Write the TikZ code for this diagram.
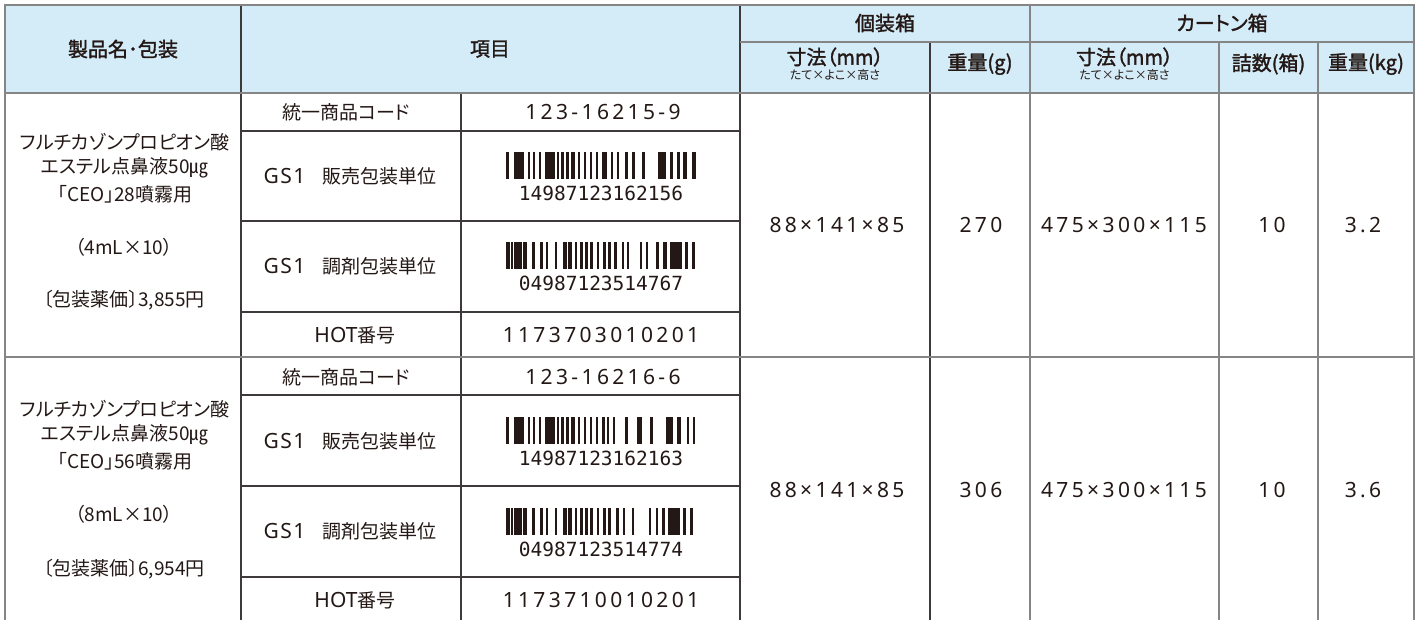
\documentclass[tikz,border=0pt]{standalone}
\usepackage{fontspec}
\newfontfamily\jp[RawFeature=+palt]{Noto Sans CJK JP}
\newfontfamily\jpm[RawFeature=+palt,FakeBold=1.6]{Noto Sans CJK JP}
\newfontfamily\numf[LetterSpace=16]{Noto Sans}
\newfontfamily\gsf[LetterSpace=7]{Noto Sans}
\newfontfamily\latf{Noto Sans}
\newfontfamily\bcf{DejaVu Sans Mono}
\definecolor{ink}{HTML}{231815}
\definecolor{hdrblue}{HTML}{D4EBF8}
\definecolor{rulec}{HTML}{3E3A39}
\definecolor{framec}{HTML}{858585}
\tikzset{
  jt/.style={font=\jp\fontsize{19}{22}\selectfont, text=ink, inner sep=0pt},
  jl/.style={font=\jp\fontsize{19}{22}\selectfont, text=ink, inner sep=0pt},
  jh/.style={font=\jpm\fontsize{20}{22}\selectfont, text=ink, inner sep=0pt},
  jsub/.style={font=\jp\fontsize{12}{13}\selectfont, text=ink, inner sep=0pt},
  nt/.style={font=\numf\fontsize{21}{23}\selectfont, text=ink, inner sep=0pt},
  bct/.style={font=\bcf\fontsize{19.5}{21}\selectfont, text=ink, inner sep=0pt},
  barfill/.style={fill=ink, draw=none},
  thinrule/.style={draw=rulec, line width=1.2pt},
  framerule/.style={draw=framec, line width=1.8pt},
}
\newcommand{\drawbars}[2]{% #1 = top y, #2 = list x/w
  \foreach \bx/\bw in {#2} {\fill[barfill] (\bx,#1) rectangle ++(\bw,27);}
}
\newcommand{\gsone}{{\gsf\fontsize{21}{23}\selectfont GS1}\hspace{17pt}}
\newcommand{\hotlat}{{\latf\fontsize{21}{23}\selectfont HOT}}
\begin{document}
\begin{tikzpicture}[x=1pt,y=-1pt]
\useasboundingbox (0,0) rectangle (1419,619);
\fill[white] (0,0) rectangle (1419,619);
\begin{scope}
\clip (0,0) rectangle (1419,619);
% header background
\fill[hdrblue] (5,5) rectangle (1414,92.7);
% thin dark rules
\draw[thinrule] (241,5) -- (241,630);
\draw[thinrule] (461,92.7) -- (461,630);
\draw[thinrule] (740,5) -- (740,630);
\draw[thinrule] (930,42) -- (930,630);
\foreach \yy in {131,221,312,395,486,577} {\draw[thinrule] (241,\yy) -- (740,\yy);}
% gray rules
\draw[framerule] (740,42) -- (1414,42);
\draw[framerule] (5,92.7) -- (1414,92.7);
\draw[framerule] (5,357) -- (1414,357);
\draw[framerule] (1030,5) -- (1030,630);
\draw[framerule] (1219,42) -- (1219,630);
\draw[framerule] (1318,42) -- (1318,630);
\draw[framerule] (5,630) -- (5,5) -- (1414,5) -- (1414,630);
\end{scope}

% header texts
\node[jh] (hname) at (123,49) {製品名･包装};
\node[jh] (hitem) at (490,49) {項目};
\node[jh] (hind) at (885,23) {個装箱};
\node[jh] (hcar) at (1222,23) {カートン箱};
\node[jh] (hdim1) at (835,57) {寸法（mm）};
\node[jsub] (hdim1s) at (835,75) {たて×よこ×高さ};
\node[jh] (hwt1) at (980,64) {重量(g)};
\node[jh] (hdim2) at (1124.5,57) {寸法（mm）};
\node[jsub] (hdim2s) at (1124.5,75) {たて×よこ×高さ};
\node[jh] (hcnt) at (1268.5,64) {詰数(箱)};
\node[jh] (hwt2) at (1366,64) {重量(kg)};

% ---------- group 1 ----------
\node[jl] (p1a) at (125,142) {フルチカゾンプロピオン酸};
\node[jl] (p1b) at (125,168) {エステル点鼻液50㎍};
\node[jl] (p1c) at (125,194) {「CEO」28噴霧用};
\node[jl] (p1d) at (124,247) {（4mL×10）};
\node[jl] (p1e) at (124,300) {〔包装薬価〕3,855円};

\node[jt] (i1a) at (346,112) {統一商品コード};
\node[jt] (i1b) at (350,176) {\gsone 販売包装単位};
\node[jt] (i1c) at (350,266) {\gsone 調剤包装単位};
\node[jt] (i1d) at (355,335) {\hotlat 番号};

\node[nt] (v1a) at (603,112) {123-16215-9};
\drawbars{152}{506/3.1, 513.6/10.4, 527.5/2.4, 533/2.4, 538.9/2.4, 544.8/10.4, 556.9/2.4, 561.4/2.4, 565.6/3.4, 570.8/3.8, 577.8/2.4, 584/2.4, 590/2.4, 595.8/2.4, 602.4/4.9, 610.8/2.4, 617/2.4, 625.3/2.4, 631.6/3.4, 642/3.4, 657.6/8.6, 669.6/3.4, 676.6/3.4, 682.8/4.2, 692.2/3.4}
\node[bct] (v1b) at (601,193) {14987123162156};
\drawbars{242}{505.7/4.3, 511/2.3, 514/7.7, 523.3/3.4, 531.7/3.3, 540/3.3, 546/2.3, 555/2.3, 562.7/4, 568.3/3.4, 575/2.3, 580/2.7, 585/3.3, 590/3.3, 596.7/2.6, 603.3/2.4, 608.3/2.4, 614/2.7, 621.7/2.6, 626.7/2.6, 640/2.4, 646/2.4, 656/3.3, 663.3/3.4, 670/11.7, 685/3.3, 691.7/3.3}
\node[bct] (v1c) at (601,283) {04987123514767};
\node[nt] (v1d) at (601,335) {1173703010201};

\node[nt] (d1a) at (837,225) {88×141×85};
\node[nt] (d1b) at (981,225) {270};
\node[nt] (d1c) at (1124,225) {475×300×115};
\node[nt] (d1d) at (1272,225) {10};
\node[nt] (d1e) at (1363,225) {3.2};

% ---------- group 2 ----------
\node[jl] (p2a) at (125,409) {フルチカゾンプロピオン酸};
\node[jl] (p2b) at (125,435) {エステル点鼻液50㎍};
\node[jl] (p2c) at (125,461) {「CEO」56噴霧用};
\node[jl] (p2d) at (124,514) {（8mL×10）};
\node[jl] (p2e) at (124,569) {〔包装薬価〕6,954円};

\node[jt] (i2a) at (346,377) {統一商品コード};
\node[jt] (i2b) at (350,441) {\gsone 販売包装単位};
\node[jt] (i2c) at (350,531) {\gsone 調剤包装単位};
\node[jt] (i2d) at (355,600) {\hotlat 番号};

\node[nt] (v2a) at (603,377) {123-16216-6};
\drawbars{417}{506/3.1, 513.6/10.4, 527.5/2.4, 533/2.4, 538.9/2.4, 544.8/10.4, 556.9/2.4, 561.4/2.4, 565.6/3.4, 570.8/3.8, 577.8/2.4, 584/2.4, 590/2.4, 595.8/2.4, 602.4/2.4, 607/2.4, 613/2.4, 625.3/2.4, 636.7/5, 650/3.3, 666/7.3, 677.3/3.4, 686.7/2.6, 692.7/2.4}
\node[bct] (v2b) at (601,458) {14987123162163};
\drawbars{508}{505.7/4.3, 511/2.3, 514/7.7, 523.3/3.4, 531.7/3.3, 540/3.3, 546/2.3, 555/2.3, 562.7/4, 568.3/3.4, 575/2.3, 580/2.7, 585/3.3, 590/3.3, 596.7/2.6, 603.3/2.4, 608.3/2.4, 616/3.3, 623/2.4, 631.7/2.4, 649/2.4, 656/2.4, 662/3.3, 668/11.7, 683/3.3, 690/3.3}
\node[bct] (v2c) at (601,549) {04987123514774};
\node[nt] (v2d) at (601,600) {1173710010201};

\node[nt] (d2a) at (837,490) {88×141×85};
\node[nt] (d2b) at (981,490) {306};
\node[nt] (d2c) at (1124,490) {475×300×115};
\node[nt] (d2d) at (1272,490) {10};
\node[nt] (d2e) at (1363,490) {3.6};
\end{tikzpicture}
\end{document}
